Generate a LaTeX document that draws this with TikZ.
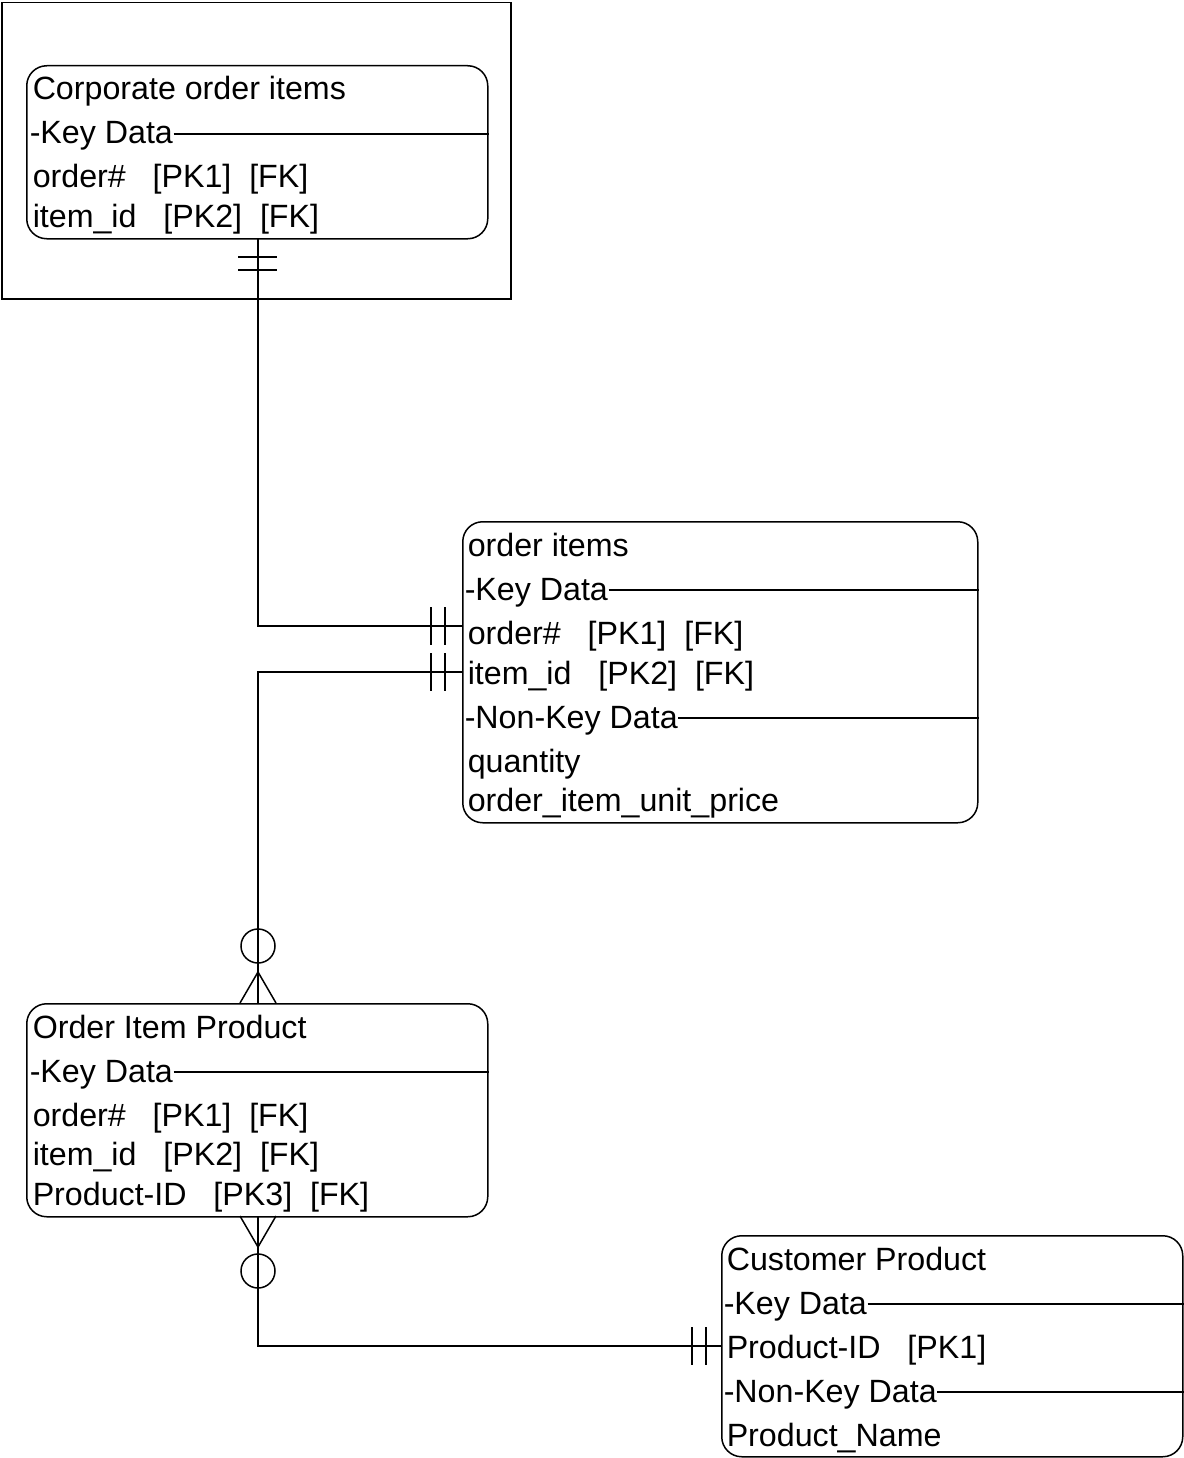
\documentclass[tikz,border=0pt]{standalone}
\usepackage{fontspec}
\setmainfont{Liberation Sans}
\begin{document}
\begin{tikzpicture}[x=1pt,y=-1pt,line width=1.5pt,
  entity/.style={draw,rounded corners=20pt,inner sep=0pt,anchor=north west},
  txt/.style={anchor=base west,inner sep=0pt,font=\fontsize{32.2pt}{38pt}\selectfont},
  sep/.style={line width=1.3pt},
  bar/.style={line width=1.5pt}]
\useasboundingbox (0,0) rectangle (1183,1458);

% outer frame
\node[draw,inner sep=0pt,anchor=north west,minimum width=509pt,minimum height=296pt] (frame) at (1,2) {};

% entity 1: Corporate order items
\node[entity,minimum width=461pt,minimum height=173pt] (e1) at (26,65) {};
\node[txt] (e1t) at (32,100) {Corporate order items};
\node[txt] (e1k) at (29,144) {-Key Data};
\node[txt] (e1a) at (32,188) {order\#\ \ \ [PK1]\ \ [FK]};
\node[txt] (e1b) at (32,227) {item\_id\ \ \ [PK2]\ \ [FK]};
\draw[sep] ([yshift=10pt]e1k.base east) -- ([yshift=10pt]e1k.base east -| e1.east);

% entity 2: order items
\node[entity,minimum width=515pt,minimum height=301pt] (e2) at (462,521) {};
\node[txt] (e2t) at (467,556) {order items};
\node[txt] (e2k) at (464,600) {-Key Data};
\node[txt] (e2a) at (467,644) {order\#\ \ \ [PK1]\ \ [FK]};
\node[txt] (e2b) at (467,684) {item\_id\ \ \ [PK2]\ \ [FK]};
\node[txt] (e2n) at (464,728) {-Non-Key Data};
\node[txt] (e2c) at (467,772) {quantity};
\node[txt] (e2d) at (467,811) {order\_item\_unit\_price};
\draw[sep] ([yshift=10pt]e2k.base east) -- ([yshift=10pt]e2k.base east -| e2.east);
\draw[sep] ([yshift=10pt]e2n.base east) -- ([yshift=10pt]e2n.base east -| e2.east);

% entity 3: Order Item Product
\node[entity,minimum width=461pt,minimum height=213pt] (e3) at (26,1003) {};
\node[txt] (e3t) at (32,1038) {Order Item Product};
\node[txt] (e3k) at (29,1082) {-Key Data};
\node[txt] (e3a) at (32,1126) {order\#\ \ \ [PK1]\ \ [FK]};
\node[txt] (e3b) at (32,1165) {item\_id\ \ \ [PK2]\ \ [FK]};
\node[txt] (e3c) at (32,1205) {Product-ID\ \ \ [PK3]\ \ [FK]};
\draw[sep] ([yshift=10pt]e3k.base east) -- ([yshift=10pt]e3k.base east -| e3.east);

% entity 4: Customer Product
\node[entity,minimum width=461pt,minimum height=221pt] (e4) at (721,1235) {};
\node[txt] (e4t) at (726,1270) {Customer Product};
\node[txt] (e4k) at (723,1314) {-Key Data};
\node[txt] (e4a) at (726,1358) {Product-ID\ \ \ [PK1]};
\node[txt] (e4n) at (723,1402) {-Non-Key Data};
\node[txt] (e4b) at (726,1446) {Product\_Name};
\draw[sep] ([yshift=10pt]e4k.base east) -- ([yshift=10pt]e4k.base east -| e4.east);
\draw[sep] ([yshift=10pt]e4n.base east) -- ([yshift=10pt]e4n.base east -| e4.east);

% connector 1: e1 -> e2 (one and only one at both ends)
\coordinate (c1a) at (258,238);
\coordinate (c1b) at (462,626);
\draw (c1a) |- (c1b);
\draw[bar] (238,257) -- (277,257) (238,270) -- (277,270);
\draw[bar] (431,607) -- (431,645) (445,607) -- (445,645);

% connector 2: e2 -> e3 (one and only one / zero or many)
\coordinate (c2a) at (462,672);
\coordinate (c2b) at (258,1003);
\draw (c2a) -| (c2b);
\draw[bar] (431,653) -- (431,691) (445,653) -- (445,691);
\draw[fill=white] (258,946) circle[radius=17pt];
\draw (258,929) -- (258,963);
\draw (240,1003) -- (258,972) -- (276,1003);

% connector 3: e3 -> e4 (zero or many / one and only one)
\coordinate (c3a) at (258,1216);
\coordinate (c3b) at (721,1346);
\draw (c3a) |- (c3b);
\draw[bar] (692,1327) -- (692,1365) (706,1327) -- (706,1365);
\draw[fill=white] (258,1271) circle[radius=17pt];
\draw (258,1254) -- (258,1288);
\draw (240,1216) -- (258,1247) -- (276,1216);
\end{tikzpicture}
\end{document}
